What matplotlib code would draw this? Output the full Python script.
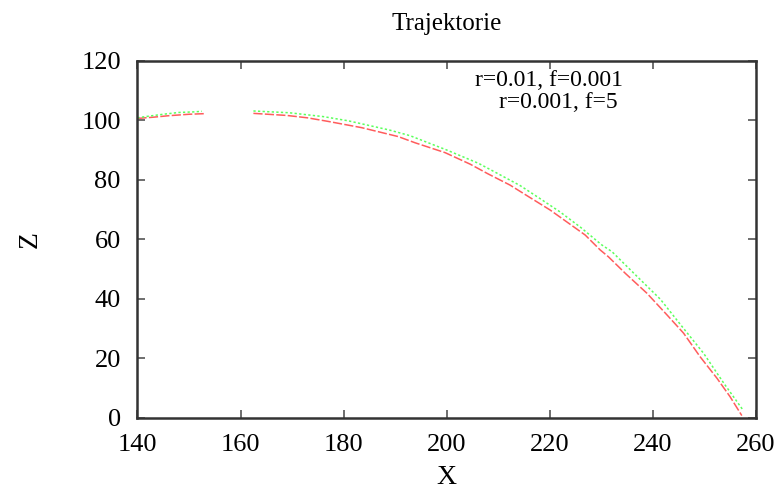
import numpy as np
import matplotlib
matplotlib.use("Agg")
import matplotlib.pyplot as plt

plt.rcParams['font.family'] = ['Liberation Serif', 'DejaVu Serif']

# trajectory (nan = gap in the drawn curve)
x_red = [140, 143, 146, 150, 153, np.nan, 162.5, 169, 173, 177, 183.5, 190.6, 193.9,
         199.7, 204.6, 208, 212.3, 216, 220.1, 223.5, 226.9, 229.8, 231.4, 234.7, 238.9,
         242.8, 246.0, 249.2, 252.5, 255.0, 257.3]
z_red = [100.6, 101.0, 101.5, 102.0, 102.2, np.nan, 102.3, 101.6, 100.8, 99.6, 97.5, 94.5, 92.4,
         89.1, 85.2, 82.0, 78.2, 74.2, 69.8, 65.6, 61.4, 56.4, 54.1, 48.5, 41.8,
         34.5, 28.4, 20.5, 13.2, 7.1, 0.7]

x_green = [140, 141.5, 145, 148, 151, 152.5, np.nan, 162.5, 169.5, 176.1, 180.9, 188.9, 192.9,
           200.0, 206.2, 210, 214.3, 218, 222.0, 226, 230.1, 232.1, 236.9, 241.5, 245.3,
           249.9, 253.8, 257.6]
z_green = [100.8, 101.2, 102.0, 102.6, 102.8, 103.0, np.nan, 103.1, 102.5, 101.2, 99.8, 96.7, 94.8,
           90.0, 85.5, 82.0, 78.0, 73.8, 69.2, 64.0, 58.1, 55.8, 47.6, 39.8, 31.5,
           21.6, 11.6, 2.4]

labels = ["r=0.01, f=0.001", "r=0.001, f=5"]
x_ticks = [140, 160, 180, 200, 220, 240, 260]
z_ticks = [0, 20, 40, 60, 80, 100, 120]

W, H = 782, 490
fig = plt.figure(figsize=(W / 100, H / 100), dpi=100)
ax = fig.add_axes([0.1758, 0.1476, 0.7906, 0.7285])

ax.plot(x_red, z_red, color='#ff5c5c', linewidth=1.1, linestyle=(0, (6, 1.5)))
ax.plot(x_green, z_green, color='#5cff5c', linewidth=1.1, linestyle=(0, (1.5, 1.5)))

ax.set_xlim(140, 260)
ax.set_ylim(0, 120)
ax.set_xticks(x_ticks)
ax.set_yticks(z_ticks)
ax.tick_params(direction='in', top=True, right=True, length=6, width=1.2,
               color='#555555', labelsize=19)
ax.tick_params(axis='x', pad=12)
ax.tick_params(axis='y', pad=12)
for s in ax.spines.values():
    s.set_linewidth(1.8)
    s.set_color('#333333')

ax.set_title("Trajektorie", fontsize=18, pad=22)
ax.set_xlabel("X", fontsize=20, labelpad=6)
ax.set_ylabel("Z", fontsize=20, labelpad=28)

# key entries (gnuplot style, right aligned, no samples visible)
ax.text(623 / W, 1 - 81 / H, labels[0], transform=fig.transFigure,
        ha='right', va='center', fontsize=17)
ax.text(618 / W, 1 - 102 / H, labels[1], transform=fig.transFigure,
        ha='right', va='center', fontsize=17)

fig.savefig("out.png", dpi=100)
